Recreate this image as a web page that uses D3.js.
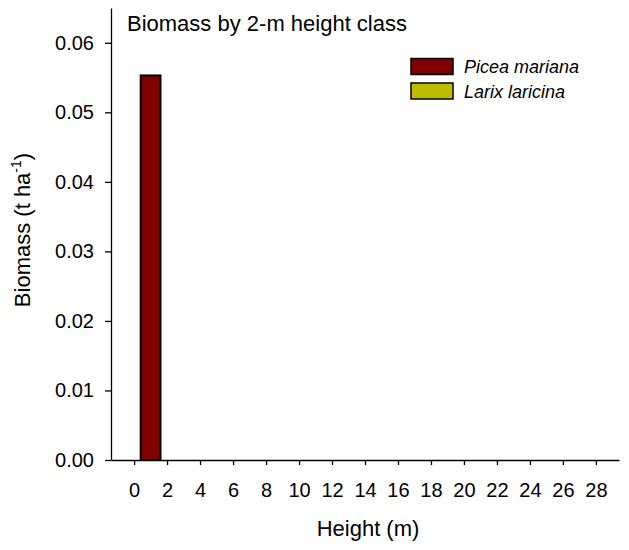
<!DOCTYPE html>
<html>
<head>
<meta charset="utf-8">
<script src="https://cdn.jsdelivr.net/npm/d3@7"></script>
<style>
  body { margin: 0; background: #fff; }
  svg { font-family: "Liberation Sans", Arial, sans-serif; }
  .axis path, .axis line { stroke: #000; stroke-width: 1.3; }
  .axis text { font-size: 20px; fill: #000; }
</style>
</head>
<body>
<svg width="629" height="550"></svg>
<script>
// height classes (midpoint of each 2-m class, m)
const classMids = [1, 3, 5, 7, 9, 11, 13, 15, 17, 19, 21, 23, 25, 27, 29];
// biomass per species (t/ha)
const piceaMariana = [0.0553, 0, 0, 0, 0, 0, 0, 0, 0, 0, 0, 0, 0, 0, 0];
const larixLaricina = [0, 0, 0, 0, 0, 0, 0, 0, 0, 0, 0, 0, 0, 0, 0];
const species = ["Picea mariana", "Larix laricina"];
const colors = ["#800000", "#bcbc00"];
const xTicks = [0, 2, 4, 6, 8, 10, 12, 14, 16, 18, 20, 22, 24, 26, 28];
const yTicks = [0, 0.01, 0.02, 0.03, 0.04, 0.05, 0.06];

const svg = d3.select("svg");

// scales
const x = d3.scaleLinear().domain([-1.4, 29.4]).range([111, 619]);
const y = d3.scaleLinear().domain([0, 0.065]).range([460, 8]);
const barWidth = 1.2; // in metres

// build stack table
const table = classMids.map((c, i) => ({
  mid: c,
  "Picea mariana": piceaMariana[i],
  "Larix laricina": larixLaricina[i]
}));
const stacked = d3.stack().keys(species)(table);

// bars
stacked.forEach((layer, k) => {
  svg.append("g")
    .selectAll("rect")
    .data(layer.filter(d => d[1] - d[0] > 0))
    .enter()
    .append("rect")
    .attr("x", d => x(d.data.mid - barWidth / 2))
    .attr("width", d => x(barWidth) - x(0))
    .attr("y", d => y(d[1]))
    .attr("height", d => y(d[0]) - y(d[1]))
    .attr("fill", colors[k])
    .attr("stroke", "#000")
    .attr("stroke-width", 2);
});

// axes
svg.append("g")
  .attr("class", "axis")
  .attr("transform", "translate(0,460)")
  .call(d3.axisBottom(x).tickValues(xTicks).tickSizeInner(5).tickSizeOuter(0).tickPadding(18))
  .selectAll("text").attr("dy", "0.71em");

svg.append("g")
  .attr("class", "axis")
  .attr("transform", "translate(111,0)")
  .call(d3.axisLeft(y).tickValues(yTicks).tickFormat(d3.format(".2f")).tickSizeInner(6).tickSizeOuter(0).tickPadding(11))
  .selectAll("text").attr("font-size", 21);

// title
svg.append("text")
  .attr("x", 127)
  .attr("y", 31)
  .attr("font-size", 22)
  .text("Biomass by 2-m height class");

// axis titles
svg.append("text")
  .attr("x", 368)
  .attr("y", 536)
  .attr("text-anchor", "middle")
  .attr("font-size", 22)
  .text("Height (m)");

const yTitle = svg.append("text")
  .attr("transform", "translate(30,230) rotate(-90)")
  .attr("text-anchor", "middle")
  .attr("font-size", 22);
yTitle.append("tspan").text("Biomass (t ha");
yTitle.append("tspan").attr("font-size", 14).attr("dy", -9).text("-1");
yTitle.append("tspan").attr("dy", 9).text(")");

// legend
const legend = svg.append("g");
species.forEach((s, i) => {
  legend.append("rect")
    .attr("x", 411)
    .attr("y", 58.5 + i * 24.5)
    .attr("width", 42)
    .attr("height", 16)
    .attr("fill", colors[i])
    .attr("stroke", "#000")
    .attr("stroke-width", 1.5);
  legend.append("text")
    .attr("x", 464)
    .attr("y", 73 + i * 24.5)
    .attr("font-size", 18)
    .attr("font-style", "italic")
    .text(s);
});
</script>
</body>
</html>
